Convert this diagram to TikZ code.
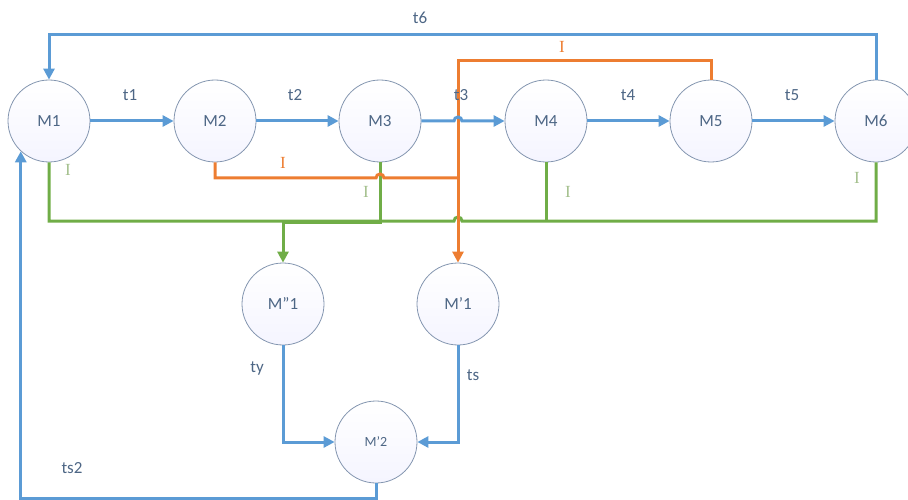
\documentclass[tikz,border=0pt]{standalone}
\usepackage{fontspec}
\setmainfont{Carlito}
\newfontfamily\serifI{Liberation Serif}
\usetikzlibrary{arrows.meta}
\definecolor{lblue}{HTML}{5B9BD5}
\definecolor{lorange}{HTML}{ED7D31}
\definecolor{lgreen}{HTML}{70AD47}
\definecolor{ltext}{HTML}{4D6685}
\definecolor{cborder}{HTML}{8496B0}
\definecolor{gI}{HTML}{A3BF8C}
\tikzset{
  place/.style={circle, draw=cborder, line width=0.8pt, minimum size=82pt, inner sep=0pt,
    top color=white, bottom color=blue!4, text=ltext, font=\fontsize{17}{20}\selectfont},
  smallplace/.style={place, font=\fontsize{14}{16}\selectfont},
  tip/.style={-{Triangle[length=11pt,width=11pt]}},
  bline/.style={draw=lblue, line width=3pt},
  oline/.style={draw=lorange, line width=3pt},
  gline/.style={draw=lgreen, line width=3pt},
  tlabel/.style={text=ltext, font=\fontsize{17}{20}\selectfont},
  olabel/.style={text=lorange, font=\serifI\fontsize{17}{20}\selectfont},
  glabel/.style={text=gI, font=\serifI\fontsize{17}{20}\selectfont},
}
\begin{document}
\begin{tikzpicture}[x=1pt,y=1pt,line join=miter]
\useasboundingbox (0,0) rectangle (908,-500);

% places
\node[place] (M1) at (49,-121) {M1};
\node[place] (M2) at (215,-121) {M2};
\node[place] (M3) at (380,-121) {M3};
\node[place] (M4) at (546,-121) {M4};
\node[place] (M5) at (711,-121) {M5};
\node[place] (M6) at (876,-121) {M6};
\node[place] (Mpp1) at (283,-304) {M{\char"22}1};
\node[place] (Mp1) at (458,-304) {M{\char"27}1};
\node[smallplace] (Mp2) at (376,-442) {M{\char"27}2};

% junction points
\coordinate (gb) at (283,-221);

% green inhibitor lines
\draw[gline] (M1.south) |- (454,-221) arc(180:0:4) -| (M6.south);
\draw[gline] (M4.south) -- (M4.south |- gb);
\draw[gline,tip] (M3.south) |- ([yshift=-1pt]gb) -- (Mpp1.north);

% orange inhibitor lines
\draw[oline,tip] (M5.north) -- ++(0,19) -| (Mp1.north);
\draw[oline] (M2.south) |- (376,-178) arc(180:0:4) -- (458,-178);

% main chain
\draw[bline,tip] (M1) -- (M2);
\draw[bline,tip] (M2) -- (M3);
\draw[bline,tip] (M3.east) -- (454,-121) arc(180:0:4) -- (M4.west);
\draw[bline,tip] (M4) -- (M5);
\draw[bline,tip] (M5) -- (M6);
\draw[bline,tip] (M6.north) -- ++(0,45) -| (M1.north);
\draw[bline,tip] (Mpp1.south) |- (Mp2.west);
\draw[bline,tip] (Mp1.south) |- (Mp2.east);
\draw[bline,tip] (Mp2.south) -- ++(0,-15) -| (M1.227);

% transition labels
\node[tlabel] (t1) at (130,-95) {t1};
\node[tlabel] (t2) at (295,-95) {t2};
\node[tlabel] (t3) at (461,-95) {t3};
\node[tlabel] (t4) at (628,-95) {t4};
\node[tlabel] (t5) at (792,-95) {t5};
\node[tlabel] (t6) at (420,-18) {t6};
\node[tlabel] (ty) at (257,-368) {ty};
\node[tlabel] (ts) at (473,-375) {ts};
\node[tlabel] (ts2) at (72,-468) {ts2};

% inhibitor labels
\node[olabel] (i1) at (283,-163) {I};
\node[olabel] (i2) at (562,-47) {I};
\node[glabel] (i3) at (68,-170) {I};
\node[glabel] (i4) at (366,-192) {I};
\node[glabel] (i5) at (568,-192) {I};
\node[glabel] (i6) at (857,-178) {I};
\end{tikzpicture}
\end{document}
